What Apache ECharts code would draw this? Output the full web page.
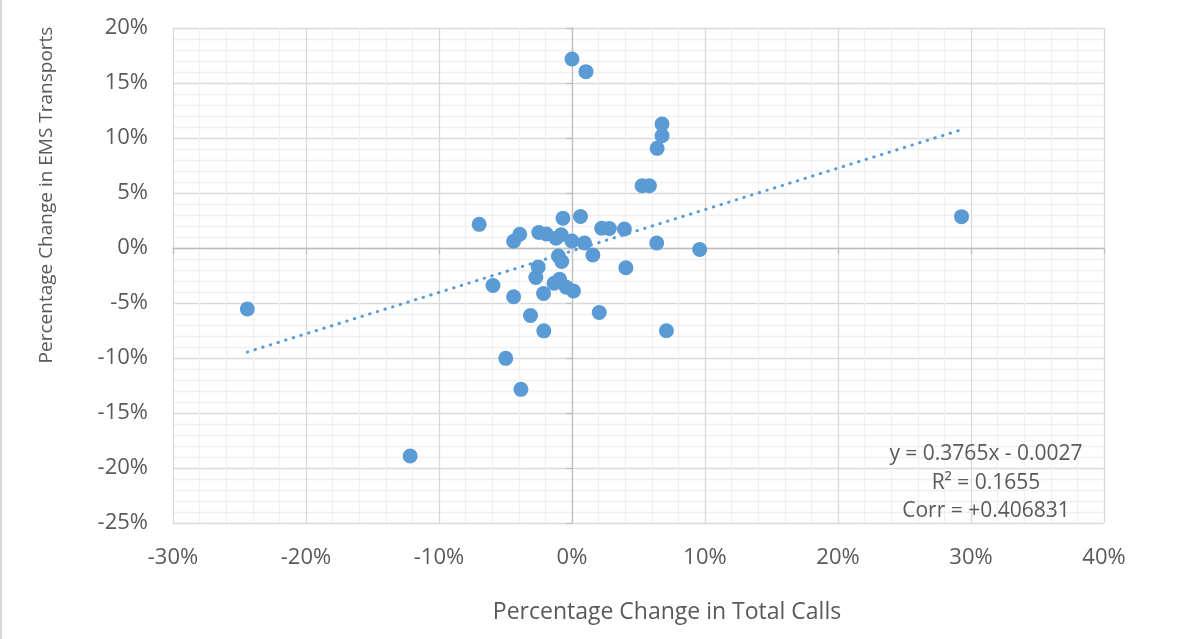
<!DOCTYPE html>
<html>
<head>
<meta charset="utf-8">
<title>EMS Transports vs Total Calls</title>
<script src="https://cdn.jsdelivr.net/npm/echarts@6/dist/echarts.min.js"></script>
<style>
  html, body { margin: 0; padding: 0; background: #fff; }
  #chart { width: 1182px; height: 639px; }
</style>
</head>
<body>
<div id="chart"></div>
<script>
// percentage change in total calls (x) and in EMS transports (y), in %
var totalCalls = [
  -24.41, -12.17, -6.98, -5.94, -4.98, -4.39, -3.93, -4.39, -3.84, -3.12,
  -2.72, -2.54, -2.50, -1.93, -2.14, -2.12, -1.20, -1.35, -1.02, -0.93,
  -0.77, -0.81, -0.68, -0.43, 0.00, 0.11, 0.00, 0.64, 0.94, 1.05,
  1.57, 2.23, 2.81, 2.05, 3.94, 4.05, 5.27, 5.82, 6.40, 6.77,
  6.77, 6.37, 7.10, 9.60, 29.29
];
var emsTransports = [
  -5.55, -18.91, 2.15, -3.41, -10.03, 0.61, 1.25, -4.43, -12.85, -6.14,
  -2.68, -1.73, 1.41, 1.27, -4.14, -7.53, 0.88, -3.21, -0.73, -2.85,
  -1.23, 1.21, 2.71, -3.57, 17.18, -3.91, 0.64, 2.86, 0.45, 16.03,
  -0.64, 1.79, 1.77, -5.86, 1.73, -1.80, 5.66, 5.66, 9.06, 11.27,
  10.21, 0.45, -7.52, -0.14, 2.85
];

// linear trendline as reported in the chart (y = 0.3765x - 0.0027)
var trendSlope = 0.3765;
var trendIntercept = -0.27; // in % units
var trendLabel = ['y = 0.3765x - 0.0027', 'R\u00b2 = 0.1655', 'Corr = +0.406831'];

var xTicks = { min: -30, max: 40, interval: 10 };
var yTicks = { min: -25, max: 20, interval: 5 };

var points = totalCalls.map(function (x, i) { return [x, emsTransports[i]]; });
var xLo = Math.min.apply(null, totalCalls);
var xHi = Math.max.apply(null, totalCalls);
var trend = [
  [xLo, trendSlope * xLo + trendIntercept],
  [xHi, trendSlope * xHi + trendIntercept]
];

var font = '"Open Sans", sans-serif';
var textColor = '#595959';

var myChart = echarts.init(document.getElementById('chart'));

function baseAxis(t) {
  return {
    type: 'value',
    min: t.min,
    max: t.max,
    interval: t.interval,
    axisLine: { show: false, onZero: false },
    axisTick: { show: false },
    axisLabel: {
      formatter: '{value}%',
      color: textColor,
      fontFamily: font,
      fontSize: 22
    },
    splitLine: { show: true, lineStyle: { color: '#d9d9d9', width: 1.3 } },
    minorTick: { show: false, splitNumber: 5 },
    minorSplitLine: { show: true, lineStyle: { color: '#f0f0f0', width: 1.3 } }
  };
}

// second pair of axes just for the zero cross lines with small ticks
function zeroAxis(t, gridPos) {
  return {
    type: 'value',
    min: t.min,
    max: t.max,
    interval: t.interval,
    position: gridPos,
    axisLine: { show: true, onZero: true, lineStyle: { color: '#bfbfbf', width: 1.3 } },
    axisTick: { show: true, length: 6, lineStyle: { color: '#bfbfbf', width: 1.3 } },
    axisLabel: { show: false },
    splitLine: { show: false }
  };
}

var xMain = baseAxis(xTicks);
xMain.axisLabel.margin = 24;
var yMain = baseAxis(yTicks);
yMain.axisLabel.margin = 25;

var option = {
  animation: false,
  backgroundColor: '#fff',
  grid: { left: 173, right: 78, top: 28, bottom: 116 },
  xAxis: [xMain, zeroAxis(xTicks, 'bottom')],
  yAxis: [yMain, zeroAxis(yTicks, 'left')],
  series: [
    {
      name: 'Trend',
      type: 'line',
      xAxisIndex: 0,
      yAxisIndex: 0,
      data: trend,
      symbol: 'none',
      silent: true,
      lineStyle: { color: '#5b9bd5', width: 3, type: [0.5, 7.5], cap: 'round' },
      z: 3
    },
    {
      name: 'Counties',
      type: 'scatter',
      xAxisIndex: 0,
      yAxisIndex: 0,
      data: points,
      symbolSize: 15,
      itemStyle: { color: '#5b9bd5', opacity: 1 },
      z: 4
    }
  ],
  graphic: [
    {
      type: 'rect',
      shape: { x: 0, y: 0, width: 2, height: 639 },
      style: { fill: '#d9d9d9' }
    },
    {
      type: 'text',
      x: 667,
      y: 612,
      style: {
        text: 'Percentage Change in Total Calls',
        fill: textColor,
        font: '23px ' + font,
        textAlign: 'center',
        textVerticalAlign: 'middle'
      }
    },
    {
      type: 'text',
      x: 47,
      y: 195,
      rotation: Math.PI / 2,
      style: {
        text: 'Percentage Change in EMS Transports',
        fill: textColor,
        font: '19px ' + font,
        textAlign: 'center',
        textVerticalAlign: 'middle'
      }
    },
    {
      type: 'text',
      x: 986,
      y: 483,
      z: 10,
      style: {
        text: trendLabel.join('\n'),
        fill: textColor,
        font: '21px ' + font,
        lineHeight: 28.5,
        textAlign: 'center',
        textVerticalAlign: 'middle'
      }
    }
  ]
};

myChart.setOption(option);
</script>
</body>
</html>
